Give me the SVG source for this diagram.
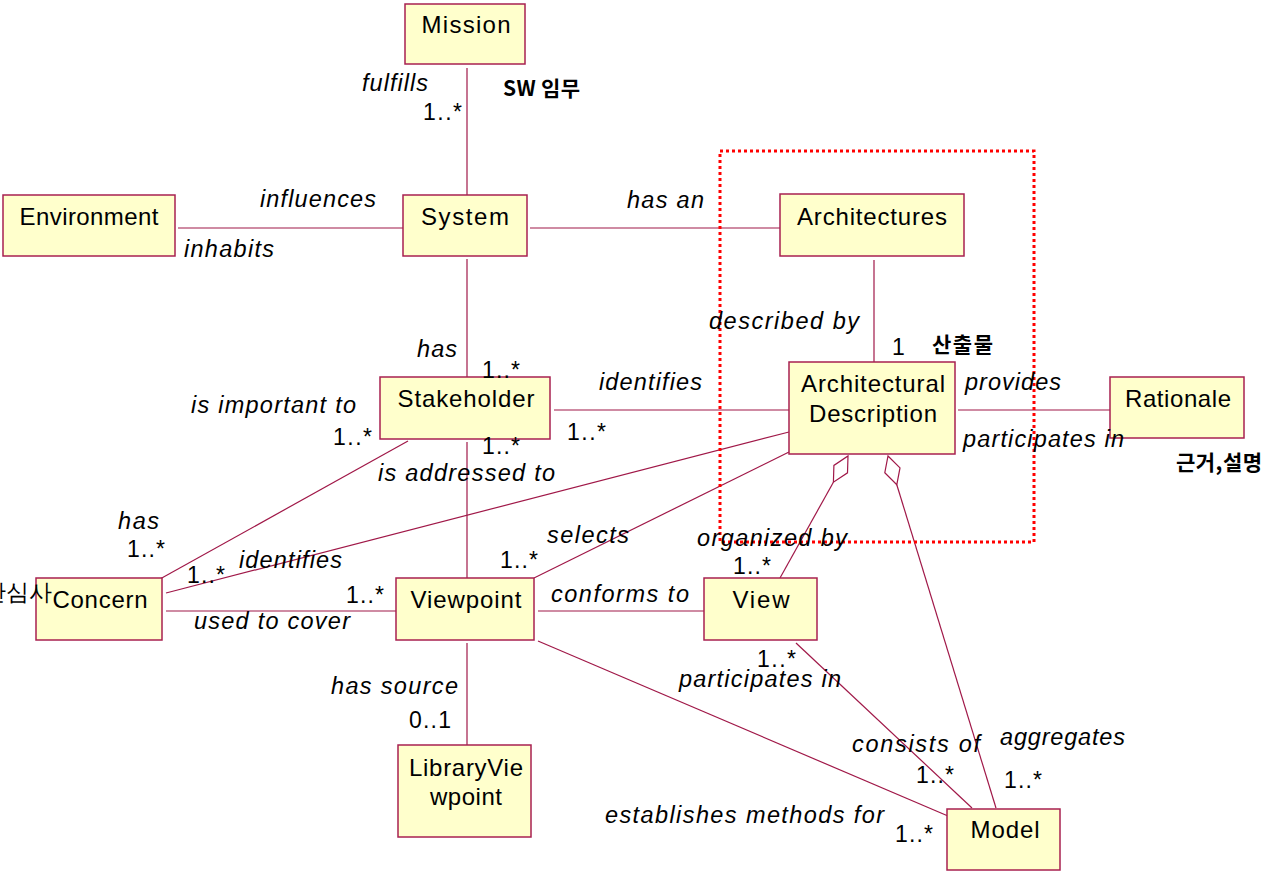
<svg xmlns="http://www.w3.org/2000/svg" width="1280" height="872" viewBox="0 0 1280 872">
<style>
.box{fill:#ffffcc;stroke:#a82050;stroke-width:1.5}
.nt{font-family:"Liberation Sans",Arial,sans-serif;font-size:24px;fill:#000;text-anchor:middle}
.lb{font-family:"Liberation Sans",Arial,sans-serif;font-size:23.5px;font-style:italic;fill:#000}
.m{font-family:"Liberation Sans",Arial,sans-serif;font-size:23px;fill:#000}
.kr{font-family:"Noto Sans CJK KR","Noto Sans",sans-serif;font-size:21px;font-weight:bold;fill:#000}
.ln{stroke:#a01848;stroke-width:1.2;fill:none}
.dia{fill:#fff;stroke:#a01848;stroke-width:1.2}
</style>
<rect width="1280" height="872" fill="#fff"/>
<g id="connectors">
<line class="ln" x1="467" y1="68" x2="467" y2="195"/>
<line class="ln" x1="178" y1="228" x2="403" y2="228"/>
<line class="ln" x1="530" y1="228" x2="780" y2="228"/>
<line class="ln" x1="467" y1="259" x2="467" y2="377"/>
<line class="ln" x1="874" y1="260" x2="874" y2="362"/>
<line class="ln" x1="554" y1="410" x2="789" y2="410"/>
<line class="ln" x1="958" y1="410" x2="1110" y2="410"/>
<line class="ln" x1="408" y1="441" x2="160" y2="579"/>
<line class="ln" x1="467" y1="442" x2="467" y2="578"/>
<line class="ln" x1="789" y1="432" x2="166" y2="593"/>
<line class="ln" x1="789" y1="452" x2="534" y2="578"/>
<line class="ln" x1="166" y1="611" x2="396" y2="611"/>
<line class="ln" x1="538" y1="611" x2="704" y2="611"/>
<line class="ln" x1="538" y1="641" x2="948" y2="816"/>
<line class="ln" x1="796" y1="643" x2="972" y2="808"/>
<line class="ln" x1="467" y1="643" x2="467" y2="745"/>
<line class="ln" x1="833.4" y1="482.2" x2="780" y2="578"/>
<polygon class="dia" points="848,456 847.5,472.8 833.4,482.2 833.9,465.4"/>
<line class="ln" x1="896.8" y1="484.7" x2="996" y2="808"/>
<polygon class="dia" points="888,456 900.0,467.9 896.8,484.7 884.8,472.7"/>
</g>
<rect x="720" y="151" width="314" height="391" fill="none" stroke="#ff0000" stroke-width="3" stroke-dasharray="3 3"/>
<g id="mission"><rect class="box" x="405" y="4" width="120" height="60"/><text class="nt" x="466" y="33" textLength="89">Mission</text></g>
<g id="environment"><rect class="box" x="3" y="195" width="172" height="61"/><text class="nt" x="89" y="225" textLength="139">Environment</text></g>
<g id="system"><rect class="box" x="403" y="195" width="124" height="61"/><text class="nt" x="465" y="225" textLength="88">System</text></g>
<g id="architectures"><rect class="box" x="780" y="194" width="184" height="62"/><text class="nt" x="872" y="225" textLength="150">Architectures</text></g>
<g id="stakeholder"><rect class="box" x="380" y="377" width="170" height="62"/><text class="nt" x="466" y="407" textLength="137">Stakeholder</text></g>
<g id="architectural-description"><rect class="box" x="789" y="362" width="166" height="92"/><text class="nt" x="873" y="392" textLength="144">Architectural</text><text class="nt" x="873" y="422" textLength="128">Description</text></g>
<g id="rationale"><rect class="box" x="1110" y="377" width="134" height="61"/><text class="nt" x="1178" y="407" textLength="106">Rationale</text></g>
<g id="concern"><rect class="box" x="36" y="578" width="126" height="62"/><text class="nt" x="100" y="608" textLength="95">Concern</text></g>
<g id="viewpoint"><rect class="box" x="396" y="578" width="138" height="62"/><text class="nt" x="466" y="608" textLength="111">Viewpoint</text></g>
<g id="view"><rect class="box" x="704" y="578" width="113" height="62"/><text class="nt" x="761" y="608" textLength="57">View</text></g>
<g id="library-viewpoint"><rect class="box" x="398" y="745" width="133" height="92"/><text class="nt" x="466" y="776" textLength="114">LibraryVie</text><text class="nt" x="466" y="805" textLength="72">wpoint</text></g>
<g id="model"><rect class="box" x="947" y="809" width="113" height="61"/><text class="nt" x="1005" y="838" textLength="69">Model</text></g>
<g id="labels">
<text class="lb" x="362" y="91" textLength="66">fulfills</text>
<text class="m" x="423" y="120" textLength="39">1..*</text>
<text class="kr" x="503" y="96" textLength="77">SW 임무</text>
<text class="lb" x="260" y="207" textLength="116">influences</text>
<text class="lb" x="184" y="257" textLength="90">inhabits</text>
<text class="lb" x="627" y="208" textLength="77">has an</text>
<text class="lb" x="709" y="329" textLength="150">described by</text>
<text class="m" x="892" y="355">1</text>
<text class="kr" x="932" y="352" textLength="61">산출물</text>
<text class="lb" x="417" y="357" textLength="40">has</text>
<text class="m" x="482" y="378" textLength="38">1..*</text>
<text class="lb" x="599" y="390" textLength="103">identifies</text>
<text class="lb" x="965" y="390" textLength="96">provides</text>
<text class="lb" x="963" y="447" textLength="161">participates in</text>
<text class="kr" x="1176" y="470" textLength="86">근거,설명</text>
<text class="lb" x="191" y="413" textLength="165">is important to</text>
<text class="m" x="333" y="445" textLength="39">1..*</text>
<text class="m" x="567" y="440" textLength="39">1..*</text>
<text class="m" x="482" y="454" textLength="38">1..*</text>
<text class="lb" x="378" y="481" textLength="177">is addressed to</text>
<text class="lb" x="118" y="529" textLength="41">has</text>
<text class="m" x="127" y="557" textLength="38">1..*</text>
<text class="lb" x="547" y="543" textLength="82">selects</text>
<text class="lb" x="697" y="546" textLength="150">organized by</text>
<text class="m" x="187" y="583" textLength="38">1..*</text>
<text class="lb" x="239" y="568" textLength="103">identifies</text>
<text class="m" x="500" y="568" textLength="38">1..*</text>
<text class="m" x="733" y="574" textLength="38">1..*</text>
<text class="m" x="52" y="600" text-anchor="end" font-family="Noto Sans CJK KR, sans-serif">관심사</text>
<text class="m" x="346" y="603" textLength="38">1..*</text>
<text class="lb" x="551" y="602" textLength="138">conforms to</text>
<text class="lb" x="194" y="629" textLength="156">used to cover</text>
<text class="m" x="757" y="667" textLength="39">1..*</text>
<text class="lb" x="679" y="687" textLength="162">participates in</text>
<text class="lb" x="331" y="694" textLength="127">has source</text>
<text class="m" x="409" y="728" textLength="42">0..1</text>
<text class="lb" x="852" y="752" textLength="128">consists of</text>
<text class="lb" x="1000" y="745" textLength="125">aggregates</text>
<text class="m" x="916" y="783" textLength="38">1..*</text>
<text class="m" x="1004" y="788" textLength="38">1..*</text>
<text class="lb" x="605" y="823" textLength="279">establishes methods for</text>
<text class="m" x="895" y="842" textLength="38">1..*</text>
</g>
</svg>
